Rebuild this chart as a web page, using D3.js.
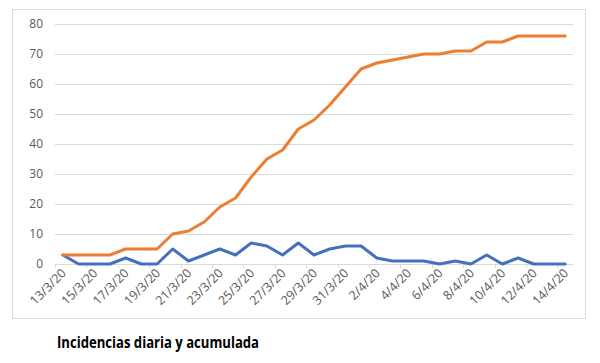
<!DOCTYPE html>
<meta charset="utf-8">
<style>
    body { margin: 0; background: #fff; }
    text { font-family: "Open Sans", "Liberation Sans", sans-serif; }
    .axis text { fill: #595959; font-size: 12.5px; }
</style>
<body>
<svg width="600" height="363"></svg>
<script src="https://cdnjs.cloudflare.com/ajax/libs/d3/7.8.5/d3.min.js"></script>
<script>

    // fechas (13/3/20 .. 14/4/20)
    var dates = ["13/3/20","14/3/20","15/3/20","16/3/20","17/3/20","18/3/20","19/3/20","20/3/20",
        "21/3/20","22/3/20","23/3/20","24/3/20","25/3/20","26/3/20","27/3/20","28/3/20","29/3/20",
        "30/3/20","31/3/20","1/4/20","2/4/20","3/4/20","4/4/20","5/4/20","6/4/20","7/4/20","8/4/20",
        "9/4/20","10/4/20","11/4/20","12/4/20","13/4/20","14/4/20"];

    var daily = [3,0,0,0,2,0,0,5,1,3,5,3,7,6,3,7,3,5,6,6,2,1,1,1,0,1,0,3,0,2,0,0,0];

    var cumulative = [3,3,3,3,5,5,5,10,11,14,19,22,29,35,38,45,48,53,59,65,67,68,69,70,70,71,71,74,74,76,76,76,76];

    var yTicks = [0,10,20,30,40,50,60,70,80];

    var svg = d3.select("svg");

    // chart frame
    svg.append("rect")
        .attr("x", 12.5).attr("y", 9.5)
        .attr("width", 573).attr("height", 309)
        .attr("fill", "none")
        .attr("stroke", "#d9d9d9");

    var plotL = 55, plotR = 573, plotT = 24, plotB = 264;

    var x = d3.scaleBand().domain(dates).range([plotL, plotR]);
    var y = d3.scaleLinear().domain([0, 80]).range([plotB, plotT]);

    // gridlines
    svg.append("g")
        .selectAll("line")
        .data(yTicks.slice(1))
        .enter().append("line")
        .attr("x1", plotL).attr("x2", plotR)
        .attr("y1", function (d) { return y(d) + 0.5; })
        .attr("y2", function (d) { return y(d) + 0.5; })
        .attr("stroke", "#d9d9d9");

    // y axis labels
    svg.append("g")
        .attr("class", "axis")
        .selectAll("text")
        .data(yTicks)
        .enter().append("text")
        .attr("x", 43)
        .attr("y", function (d) { return y(d) + 4; })
        .attr("text-anchor", "end")
        .style("font-size", "12px")
        .text(function (d) { return d; });

    // x axis line + ticks every 2 categories
    svg.append("line")
        .attr("x1", plotL).attr("x2", plotR)
        .attr("y1", plotB + 0.5).attr("y2", plotB + 0.5)
        .attr("stroke", "#d9d9d9");

    var every2 = dates.filter(function (d, i) { return i % 2 === 0; });

    svg.append("g")
        .selectAll("line")
        .data(every2)
        .enter().append("line")
        .attr("x1", function (d) { return Math.round(x(d)) + 0.5; })
        .attr("x2", function (d) { return Math.round(x(d)) + 0.5; })
        .attr("y1", plotB).attr("y2", plotB + 4)
        .attr("stroke", "#d9d9d9");

    svg.append("g")
        .attr("class", "axis")
        .selectAll("text")
        .data(every2)
        .enter().append("text")
        .attr("text-anchor", "end")
        .attr("transform", function (d) {
            return "translate(" + (x(d) + x.bandwidth() / 2 + 4) + "," + (plotB + 10) + ") rotate(-45)";
        })
        .text(function (d) { return d; });

    var line = function (vals) {
        return d3.line()
            .x(function (d, i) { return x(dates[i]) + x.bandwidth() / 2; })
            .y(function (d) { return y(d); })(vals);
    };

    svg.append("path")
        .attr("d", line(daily))
        .attr("fill", "none")
        .attr("stroke", "#4470bf")
        .attr("stroke-width", 3)
        .attr("stroke-linejoin", "round")
        .attr("stroke-linecap", "round");

    svg.append("path")
        .attr("d", line(cumulative))
        .attr("fill", "none")
        .attr("stroke", "#ED7D31")
        .attr("stroke-width", 3)
        .attr("stroke-linejoin", "round")
        .attr("stroke-linecap", "round");

    // title under the chart
    svg.append("text")
        .attr("x", 57).attr("y", 348)
        .attr("font-size", "16.5px")
        .attr("font-weight", "bold")
        .attr("fill", "#000")
        .attr("textLength", 202)
        .attr("lengthAdjust", "spacingAndGlyphs")
        .text("Incidencias diaria y acumulada");

</script>
</body>
